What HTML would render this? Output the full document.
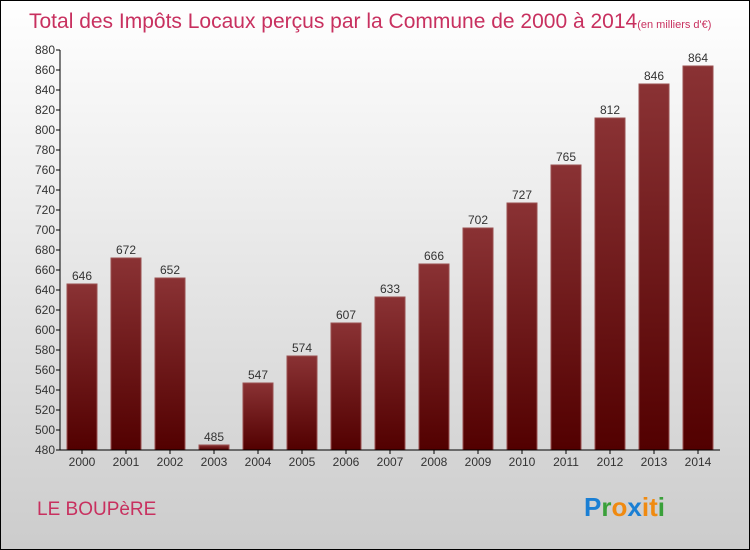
<!DOCTYPE html>
<html><head><meta charset="utf-8"><style>
body{margin:0}
#wrap{position:relative;width:748px;height:548px;border:1px solid #000;background:linear-gradient(#fff,#ccc);font-family:"Liberation Sans",sans-serif;overflow:hidden}
</style></head><body>
<div id="wrap">
<svg id="chart" width="748" height="548">
<defs><linearGradient id="bg" x1="0" y1="0" x2="0" y2="1"><stop offset="0" stop-color="#8a3234"/><stop offset="1" stop-color="#520000"/></linearGradient></defs>
<text x="28" y="27" font-size="21" fill="#c8305f">Total des Impôts Locaux perçus par la Commune de 2000 à 2014<tspan font-size="11">(en milliers d'€)</tspan></text>
<text x="36" y="514" font-size="19" fill="#c8305f">LE BOUPèRE</text>
<text x="583" y="515" font-size="26" font-weight="bold"><tspan fill="#1a7fd4">P</tspan><tspan fill="#3aa03a">r</tspan><tspan fill="#f08a10">o</tspan><tspan fill="#1a7fd4">x</tspan><tspan fill="#f08a10">i</tspan><tspan fill="#f08a10">t</tspan><tspan fill="#3aa03a">i</tspan></text>
<g id="plot"></g>
</svg>
</div>
<script>
const years=["2000","2001","2002","2003","2004","2005","2006","2007","2008","2009","2010","2011","2012","2013","2014"];
const values=[646,672,652,485,547,574,607,633,666,702,727,765,812,846,864];
const yTicks=[480,500,520,540,560,580,600,620,640,660,680,700,720,740,760,780,800,820,840,860,880];
const ns="http://www.w3.org/2000/svg";
const g=document.getElementById('plot');
const x0=59,band=44,y0=449,yMin=480,yMax=880,h=400;
const y=v=>y0-(v-yMin)/(yMax-yMin)*h;
const xb=i=>x0+i*band;
function mk(t,a){const e=document.createElementNS(ns,t);for(const k in a)e.setAttribute(k,a[k]);g.appendChild(e);return e;}
values.forEach((v,i)=>{
 const r=mk('rect',{x:xb(i)+7,y:y(v),width:30,height:y0-y(v),fill:'url(#bg)',stroke:'#9a5050','stroke-width':1});
 
 
 const t=mk('text',{x:xb(i)+22,y:y(v)-4,'font-size':12,fill:'#333','text-anchor':'middle'});
 t.textContent=v;
 
 
 const l=mk('text',{x:xb(i)+22,y:y0+16,'font-size':12,fill:'#333','text-anchor':'middle'});
 l.textContent=years[i];
 
 
 mk('line',{x1:xb(i)+22,x2:xb(i)+22,y1:y0,y2:y0+4,stroke:'#000'});
});
yTicks.forEach(v=>{
 mk('line',{x1:x0-4,x2:x0,y1:y(v),y2:y(v),stroke:'#000'});
 const t=mk('text',{x:x0-5,y:y(v)+4,'font-size':12,fill:'#333','text-anchor':'end'});
 t.textContent=v;
 
 
});
const ya=mk('line',{x1:x0,x2:x0,y1:y(yMax),y2:y0,stroke:'#000'});


const xa=mk('line',{x1:x0,x2:x0+years.length*band,y1:y0,y2:y0,stroke:'#000'});


</script>
</body></html>
